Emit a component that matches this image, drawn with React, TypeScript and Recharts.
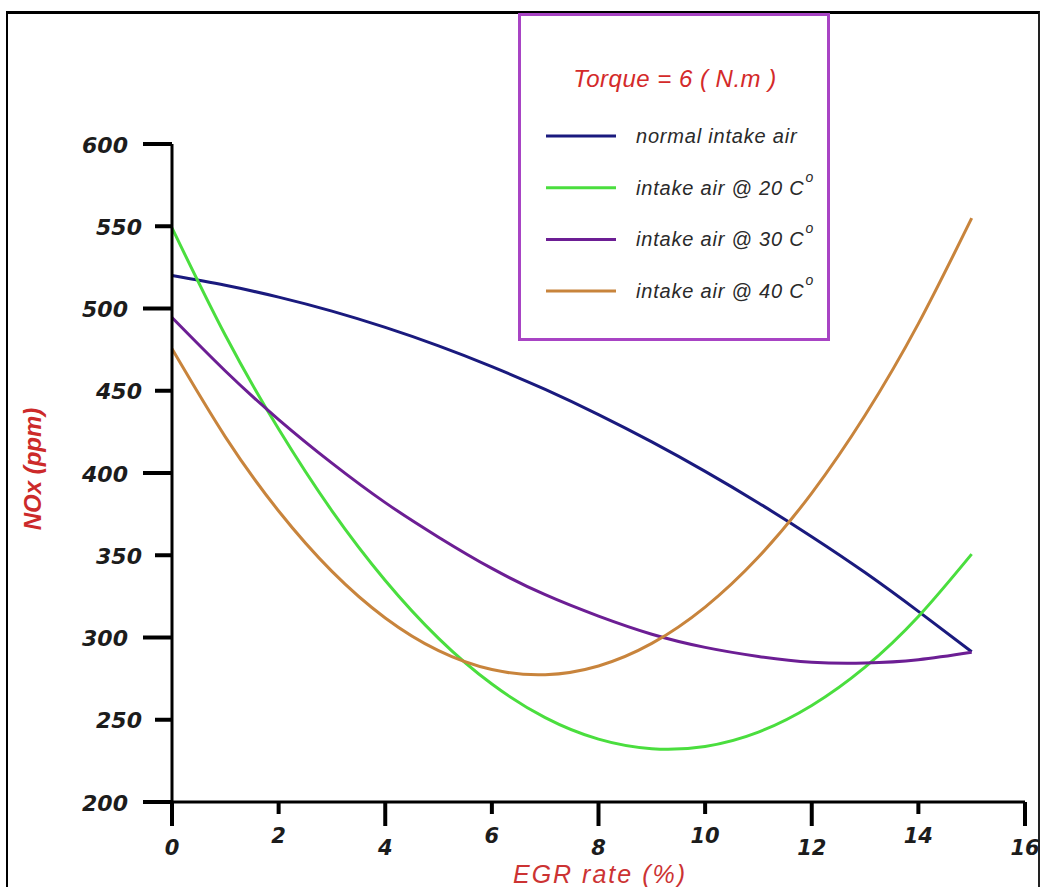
import React from 'react';
import { LineChart, Line, XAxis, YAxis, Legend } from 'recharts';

const xValues = [0, 1, 2, 3, 4, 5, 6, 7, 8, 9, 10, 11, 12, 13, 14, 15];
const normalIntake = [520, 514.1, 506.9, 498.4, 488.5, 477.3, 464.7, 450.8, 435.5, 418.9, 401, 381.8, 361.3, 339.5, 315.9, 291.3];
const intake20 = [549, 483.7, 426.7, 377.0, 334.7, 299.5, 271.7, 251.3, 238.2, 232.4, 233.8, 242.5, 258.7, 282.0, 312.8, 350.7];
const intake30 = [494.5, 462, 432.5, 406, 382, 361, 342, 326, 313, 302, 294, 288.5, 285, 284.5, 286.5, 291];
const intake40 = [475.5, 422.0, 376.9, 340.2, 311.9, 292.0, 280.5, 277.4, 282.7, 296.4, 318.5, 348.9, 387.8, 435.1, 490.8, 554.9];

const xTicks = [0, 2, 4, 6, 8, 10, 12, 14, 16];
const yTicks = [200, 250, 300, 350, 400, 450, 500, 550, 600];

const seriesInfo = [
  { key: 'normal', name: 'normal intake air', color: '#1a1a7e', deg: false },
  { key: 't20', name: 'intake air @ 20 C', color: '#4ade3e', deg: true },
  { key: 't30', name: 'intake air @ 30 C', color: '#6c1e94', deg: true },
  { key: 't40', name: 'intake air @ 40 C', color: '#c8843c', deg: true },
];

const data = xValues.map((x, i) => ({
  x,
  normal: normalIntake[i],
  t20: intake20[i],
  t30: intake30[i],
  t40: intake40[i],
}));

const tickFont = '"DejaVu Sans", sans-serif';
const textFont = '"Liberation Sans", Arial, sans-serif';

const XTick = (props: any) => {
  const { x, y, payload } = props;
  const idx = Math.round(payload.value / 2);
  const long = idx % 2 === 0;
  return (
    <g>
      <line x1={x} y1={y} x2={x} y2={y + (long ? 24 : 12)} stroke="#000" strokeWidth={4} />
      <text
        x={x}
        y={y + (long ? 46 : 34)}
        textAnchor="middle"
        dominantBaseline="central"
        fontFamily={tickFont}
        fontWeight="bold"
        fontStyle="italic"
        fontSize={21}
        fill="#1c1c1c"
      >
        {payload.value}
      </text>
    </g>
  );
};

const YTick = (props: any) => {
  const { x, y, payload } = props;
  const long = payload.value % 100 === 0;
  return (
    <g>
      <line x1={x - (long ? 29 : 17)} y1={y} x2={x} y2={y} stroke="#000" strokeWidth={4} />
      <text
        x={x - (long ? 44 : 30)}
        y={y + 1}
        textAnchor="end"
        dominantBaseline="central"
        fontFamily={tickFont}
        fontWeight="bold"
        fontStyle="italic"
        fontSize={22}
        fill="#1c1c1c"
      >
        {payload.value}
      </text>
    </g>
  );
};

const LegendBox = () => (
  <div
    style={{
      width: 306,
      height: 322,
      border: '3px solid #a844c4',
      background: '#fff',
      boxSizing: 'content-box',
      position: 'relative',
    }}
  >
    <svg width={306} height={322} style={{ position: 'absolute', left: 0, top: 0 }}>
      <text
        x={154}
        y={62}
        textAnchor="middle"
        dominantBaseline="central"
        fontFamily={textFont}
        fontStyle="italic"
        fontSize={24}
        letterSpacing={0.5}
        fill="#d42a2a"
      >
        Torque = 6 ( N.m )
      </text>
      {seriesInfo.map((s, i) => {
        const yy = 120 + i * 51.7;
        return (
          <g key={s.key}>
            <line x1={25} y1={yy} x2={95} y2={yy} stroke={s.color} strokeWidth={3} />
            <text
              x={115}
              y={yy}
              dominantBaseline="central"
              fontFamily={textFont}
              fontStyle="italic"
              fontSize={20}
              letterSpacing={0.8}
              fill="#2a2a2a"
            >
              {s.name}
              {s.deg ? (
                <tspan dy={-11} dx={1} fontSize={14}>
                  o
                </tspan>
              ) : null}
            </text>
          </g>
        );
      })}
    </svg>
  </div>
);

export default function App() {
  return (
    <div style={{ position: 'absolute', left: 0, top: 0, width: 1041, height: 887, background: '#fff', overflow: 'hidden' }}>
      <div
        style={{
          position: 'absolute',
          left: 6,
          top: 11,
          width: 1030,
          height: 890,
          borderTop: '3px solid #000',
          borderLeft: '2px solid #000',
          borderRight: '2px solid #222',
        }}
      />
      <div style={{ position: 'absolute', left: 0, top: 0 }}>
        <LineChart
          width={1041}
          height={887}
          data={data}
          margin={{ top: 144, right: 16, left: 72, bottom: 45 }}
        >
          <XAxis
            type="number"
            dataKey="x"
            domain={[0, 16]}
            ticks={xTicks}
            height={40}
            tickSize={0}
            tickMargin={0}
            tickLine={false}
            axisLine={{ stroke: '#000', strokeWidth: 3 }}
            tick={<XTick />}
            interval={0}
            label={{
              content: () => (
                <text
                  x={600}
                  y={874}
                  textAnchor="middle"
                  dominantBaseline="central"
                  fontFamily={textFont}
                  fontStyle="italic"
                  fontSize={25}
                  letterSpacing={2}
                  fill="#cc3333"
                >
                  EGR rate (%)
                </text>
              ),
            }}
          />
          <YAxis
            type="number"
            domain={[200, 600]}
            ticks={yTicks}
            width={100}
            tickSize={0}
            tickMargin={0}
            tickLine={false}
            axisLine={{ stroke: '#000', strokeWidth: 3 }}
            tick={<YTick />}
            interval={0}
            label={{
              content: () => (
                <text
                  x={32}
                  y={469}
                  transform="rotate(-90 32 469)"
                  textAnchor="middle"
                  dominantBaseline="central"
                  fontFamily={textFont}
                  fontStyle="italic"
                  fontWeight="bold"
                  fontSize={24}
                  fill="#cc2a2a"
                >
                  NOx (ppm)
                </text>
              ),
            }}
          />
          {seriesInfo.map((s) => (
            <Line
              key={s.key}
              type="natural"
              dataKey={s.key}
              name={s.name}
              stroke={s.color}
              strokeWidth={3}
              dot={false}
              activeDot={false}
              isAnimationActive={false}
            />
          ))}
          <Legend
            layout="horizontal"
            verticalAlign="middle"
            align="center"
            wrapperStyle={{ left: 518, top: 13, width: 312, height: 328 }}
            content={() => <LegendBox />}
          />
        </LineChart>
      </div>
    </div>
  );
}
